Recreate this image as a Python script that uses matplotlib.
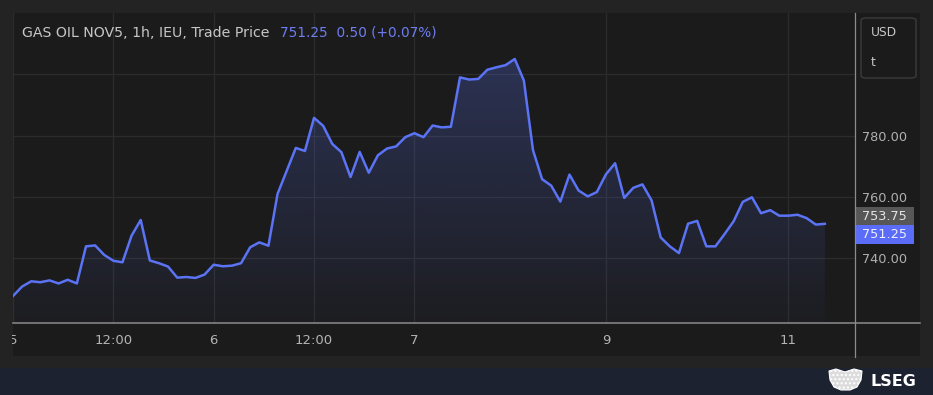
import numpy as np
import matplotlib
matplotlib.use("Agg")
import matplotlib.pyplot as plt
from matplotlib.patches import Rectangle, FancyBboxPatch, Polygon
from matplotlib.transforms import IdentityTransform, Bbox

# hourly trade prices
prices = [727.7, 730.8, 732.5, 732.2, 732.8, 731.8, 733.0, 731.8, 743.9, 744.2,
          741.1, 739.2, 738.7, 747.4, 752.5, 739.3, 738.4, 737.3, 733.7, 733.9,
          733.6, 734.7, 737.9, 737.4, 737.6, 738.4, 743.6, 745.2, 744.1, 761.0,
          768.5, 776.0, 775.0, 785.8, 783.2, 777.3, 774.6, 766.5, 774.7, 767.9,
          773.6, 775.8, 776.5, 779.5, 780.8, 779.5, 783.3, 782.7, 782.9, 799.0,
          798.3, 798.5, 801.5, 802.3, 803.0, 805.0, 798.0, 775.3, 765.8, 763.7,
          758.5, 767.3, 762.1, 760.2, 761.6, 767.4, 771.0, 759.7, 763.0, 764.1,
          758.9, 746.8, 743.9, 741.7, 751.3, 752.2, 743.9, 743.9, 747.9, 752.1,
          758.4, 759.9, 754.7, 755.7, 753.9, 753.9, 754.2, 753.1, 751.0, 751.25]
tick_pos = [0, 11, 22, 33, 44, 65, 85]
tick_labels = ["5", "12:00", "6", "12:00", "7", "9", "11"]
y_ticks = [740, 760, 780]
y_grid = [740, 760, 780, 800]
prev_close = 753.75
last_price = 751.25
title = "GAS OIL NOV5, 1h, IEU, Trade Price"
title_vals = "751.25  0.50 (+0.07%)"

W, H = 933, 395
line_col = "#5b73f5"
panel_bg = "#1b1b1b"

fig = plt.figure(figsize=(W / 100, H / 100), dpi=100, facecolor="#232323")

def fx(px):
    return px / W

def fy(py):
    return 1 - py / H

# panel + footer backgrounds
fig.patches.append(Rectangle((fx(13), fy(356)), fx(920) - fx(13), fy(13) - fy(356),
                             transform=fig.transFigure, facecolor=panel_bg, edgecolor="none", zorder=-5))
fig.patches.append(Rectangle((0, 0), 1, fy(368), transform=fig.transFigure,
                             facecolor="#1d2231", edgecolor="none", zorder=-5))

ax = fig.add_axes([fx(13), fy(322.7), fx(855) - fx(13), fy(13) - fy(322.7)])
ax.set_zorder(1)
ax.set_facecolor(panel_bg)
for s in ax.spines.values():
    s.set_visible(False)

x = np.arange(len(prices))
y = np.array(prices)
ylo, yhi = 719.0, 820.0

# gradient fill under the line
poly = ax.fill_between(x, y, ylo, color="none", lw=0)
ymax = y.max()
grad = np.linspace(0.26, 0.03, 256).reshape(-1, 1)
rgba = np.zeros((256, 1, 4))
rgba[..., 0] = 91 / 255
rgba[..., 1] = 115 / 255
rgba[..., 2] = 245 / 255
rgba[..., 3] = grad
img = ax.imshow(rgba, extent=[0, x[-1], ylo, ymax], aspect="auto", origin="upper", zorder=1)
img.set_clip_path(poly.get_paths()[0], transform=ax.transData)
ax.set_xlim(0, 92.3)
ax.set_ylim(ylo, yhi)

ax.plot(x, y, color=line_col, lw=1.8, zorder=3, solid_joinstyle="round")

# grid
for v in y_grid:
    ax.axhline(v, color="#2c2c2c", lw=0.9, zorder=0.5)
for p in tick_pos:
    ax.axvline(p, color="#2c2c2c", lw=0.9, zorder=0.5)

ax.set_xticks(tick_pos)
ax.set_xticklabels(tick_labels, fontsize=9.5)
ax.tick_params(axis="x", length=0, pad=8, colors="#b4b4b4")
ax.yaxis.tick_right()
ax.set_yticks(y_ticks)
ax.set_yticklabels([f"{v:.2f}" for v in y_ticks], fontsize=9.3)
ax.tick_params(axis="y", length=0, pad=5, colors="#b0b0b0")

# clip the first x label at the panel edge
fig.canvas.draw()
first = ax.get_xticklabels()[0]
first.set_clip_box(Bbox.from_extents(12, 0, W, H))
first.set_clip_on(True)

# axis separators
fig.add_artist(plt.Line2D([fx(13), fx(920)], [fy(322.7), fy(322.7)], transform=fig.transFigure,
                          color="#8c8c8c", lw=1.1, zorder=5))
fig.add_artist(plt.Line2D([fx(855.3), fx(855.3)], [fy(13), fy(357)], transform=fig.transFigure,
                          color="#8c8c8c", lw=0.9, zorder=5))

# title
t1 = fig.text(fx(22), fy(33), title, color="#c6c6c6", fontsize=10.2, va="center", ha="left", zorder=5)
fig.add_artist(plt.Annotation(title_vals, xy=(1, 0.5), xycoords=t1, xytext=(10, 0),
                              textcoords="offset pixels", color="#6e7ef0", fontsize=9.8,
                              va="center", ha="left", zorder=5))

# currency box
fig.patches.append(FancyBboxPatch((fx(861), fy(78)), fx(916) - fx(861), fy(18) - fy(78),
                                  boxstyle="round,pad=0,rounding_size=0.006", transform=fig.transFigure,
                                  facecolor=panel_bg, edgecolor="#3c3c3c", lw=1, zorder=4))
fig.text(fx(871), fy(33), "USD", color="#c8c8c8", fontsize=8.8, va="center", ha="left", zorder=5)
fig.text(fx(871), fy(63), "t", color="#c8c8c8", fontsize=8.8, va="center", ha="left", zorder=5)

# price flags on the right axis
yc = ax.transData.transform((0, prev_close))[1]
bh = 18.5
fig.patches.append(Rectangle((856, yc - bh / 2), 58, bh, transform=IdentityTransform(),
                             facecolor="#575757", edgecolor="none", zorder=4))
fig.text(fx(862), yc / H, f"{prev_close:.2f}", color="#e4e4e4", fontsize=9.3, va="center", ha="left", zorder=5)
yb = yc - bh
fig.patches.append(Rectangle((856, yb - bh / 2), 58, bh, transform=IdentityTransform(),
                             facecolor="#5a6cf8", edgecolor="none", zorder=4))
fig.text(fx(862), yb / H, f"{last_price:.2f}", color="#eef0ff", fontsize=9.3, va="center", ha="left", zorder=5)

# footer logo: rough crest + wordmark
crest = [(829, 371), (836, 369), (845, 372), (854, 369), (862, 371), (861, 380),
         (857, 387), (850, 390), (841, 390), (834, 387), (830, 380)]
fig.patches.append(Polygon([(fx(px), fy(py)) for px, py in crest], closed=True,
                           transform=fig.transFigure, facecolor="#dcdcdc", edgecolor="white",
                           lw=0.8, hatch="....", zorder=4))
fig.text(fx(871), fy(381.5), "LSEG", color="white", fontsize=11.5, fontweight="bold", va="center", ha="left")

fig.savefig("out.png", dpi=100, facecolor=fig.get_facecolor())
